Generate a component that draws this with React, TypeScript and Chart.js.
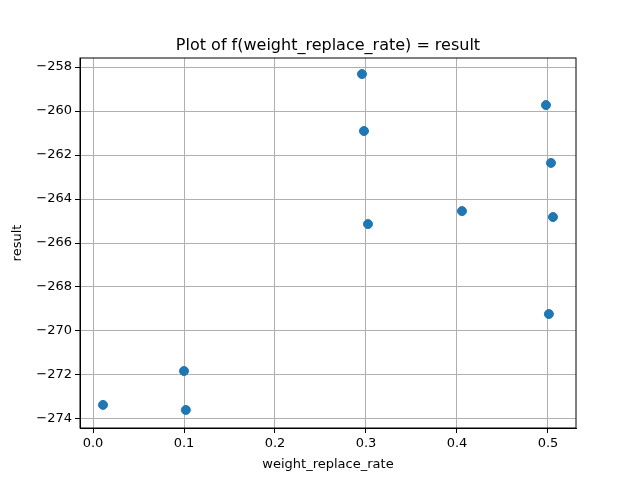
import { useEffect, useRef } from 'react'
import { Chart, registerables } from 'chart.js'

Chart.register(...registerables)

const rateValues = [0.2956, 0.4978, 0.2978, 0.5033, 0.4055, 0.5055, 0.3022, 0.501, 0.1, 0.011, 0.102]
const resultValues = [-258.32, -259.73, -260.91, -262.36, -264.55, -264.82, -265.14, -269.23, -271.82, -273.36, -273.59]
const xTicks = [0, 0.1, 0.2, 0.3, 0.4, 0.5]
const yTicks = [-274, -272, -270, -268, -266, -264, -262, -260, -258]
const titleText = 'Plot of f(weight_replace_rate) = result'

const frame = {
  id: 'frame',
  afterDraw(chart: Chart) {
    const { ctx, chartArea: a } = chart
    ctx.save()
    ctx.strokeStyle = '#000'
    ctx.lineWidth = 1
    ctx.strokeRect(a.left, a.top, a.right - a.left, a.bottom - a.top)
    ctx.fillStyle = '#000'
    ctx.font = '16px "DejaVu Sans"'
    ctx.textAlign = 'center'
    ctx.textBaseline = 'alphabetic'
    ctx.fillText(titleText, (a.left + a.right) / 2, a.top - 8)
    ctx.restore()
  },
}

export default function App() {
  const ref = useRef<HTMLCanvasElement | null>(null)

  useEffect(() => {
    document.body.style.margin = '0'
    let chart: Chart | null = null
    if (ref.current) {
      const tickFont = { family: 'DejaVu Sans', size: 13 }
      chart = new Chart(ref.current, {
        type: 'scatter',
        data: {
          datasets: [
            {
              data: rateValues.map((x, i) => ({ x, y: resultValues[i] })),
              backgroundColor: '#1f77b4',
              borderColor: '#1f77b4',
              pointRadius: 4.5,
            },
          ],
        },
        plugins: [frame],
        options: {
          animation: false,
          responsive: false,
          layout: { padding: { left: 0, right: 64, top: 58, bottom: 0 } },
          plugins: {
            legend: { display: false },
            tooltip: { enabled: false },
            title: { display: false },
          },
          scales: {
            x: {
              type: 'linear',
              min: -0.0143,
              max: 0.5308,
              afterBuildTicks: (s: any) => { s.ticks = xTicks.map((v) => ({ value: v })) },
              afterFit: (s: any) => { s.height = 52 },
              ticks: { color: '#000', font: tickFont, callback: (v: any) => Number(v).toFixed(1) },
              grid: { color: '#b0b0b0', tickColor: '#000', tickLength: 5 },
              border: { color: '#000' },
              title: { display: true, text: 'weight_replace_rate', color: '#000', font: tickFont, padding: { top: 0, bottom: 8 } },
            },
            y: {
              type: 'linear',
              min: -274.41,
              max: -257.59,
              afterBuildTicks: (s: any) => { s.ticks = yTicks.map((v) => ({ value: v })) },
              afterFit: (s: any) => { s.width = 80 },
              ticks: { color: '#000', font: tickFont, callback: (v: any) => String(v).replace('-', '\u2212') },
              grid: { color: '#b0b0b0', tickColor: '#000', tickLength: 5 },
              border: { color: '#000' },
              title: { display: true, text: 'result', color: '#000', font: tickFont, padding: { top: 10, bottom: 0 } },
            },
          },
        },
      })
    }
    return () => {
      if (chart) chart.destroy()
    }
  }, [])

  return <canvas ref={ref} width={640} height={480} style={{ display: 'block' }} />
}
